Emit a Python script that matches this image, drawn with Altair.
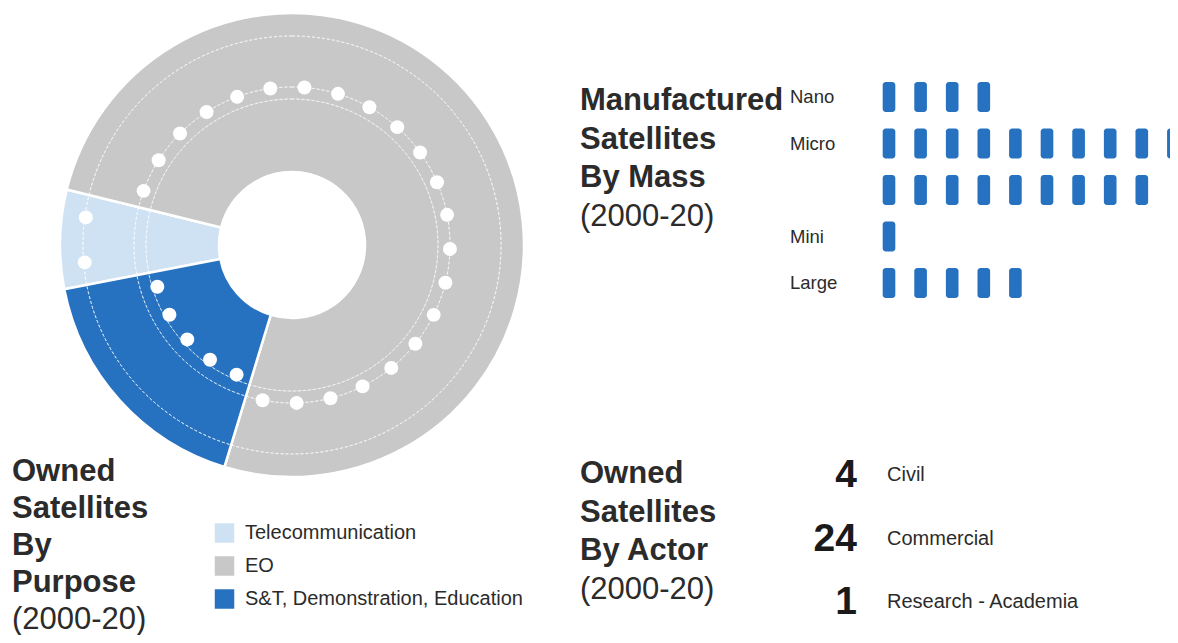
import math
import altair as alt
import pandas as pd

# ---------------- data ----------------
purposes = ["Telecommunication", "EO", "S&T, Demonstration, Education"]
purpose_counts = [2, 22, 5]

mass_classes = ["Nano", "Micro", "Mini", "Large"]
mass_counts = [4, 19, 1, 5]

actors = ["Civil", "Commercial", "Research - Academia"]
actor_counts = [4, 24, 1]

title_purpose = ["Owned", "Satellites", "By", "Purpose", "(2000-20)"]
title_mass = ["Manufactured", "Satellites", "By Mass", "(2000-20)"]
title_actor = ["Owned", "Satellites", "By Actor", "(2000-20)"]

# ---------------- styles / layout ----------------
W, H = 1162, 627
FONT = "Liberation Sans"
TXT = "#2b2b2b"
purpose_colors = ["#cfe2f3", "#c8c8c8", "#2672c0"]
BAR_BLUE = "#2672c0"
CX, CY = 284, 237
R_OUT, R_IN = 232, 73
START = math.radians(259)
dot_ring = {"Telecommunication": 208, "EO": 158, "S&T, Demonstration, Education": 141}
faint_rings = [209, 158, 146]
PER_ROW = 10
TITLE_SIZE = 31

total = sum(purpose_counts)

pie_df = pd.DataFrame({"purpose": purposes, "count": purpose_counts,
                       "order": list(range(len(purposes)))})

dot_rows = []
cum = 0
for p, c in zip(purposes, purpose_counts):
    for k in range(c):
        dot_rows.append({"purpose": p, "pos": cum + k + 0.5, "ring": dot_ring[p]})
    cum += c
dots_df = pd.DataFrame(dot_rows)

rings_df = pd.DataFrame({"r": faint_rings})

bar_rows, lab_rows = [], []
row = 0
for m, c in zip(mass_classes, mass_counts):
    lab_rows.append({"label": m, "row": row})
    for k in range(c):
        r_ = row + k // PER_ROW
        col = k % PER_ROW
        bar_rows.append({"cls": m, "row": r_, "col": col})
    row += math.ceil(c / PER_ROW)
bars_df = pd.DataFrame(bar_rows)
mass_lab_df = pd.DataFrame(lab_rows)

leg_df = pd.DataFrame({"purpose": purposes, "i": list(range(len(purposes)))})
actor_df = pd.DataFrame({"actor": actors, "n": [str(v) for v in actor_counts],
                         "i": list(range(len(actors)))})


def lin(domain, rng):
    return alt.Scale(domain=domain, range=rng, nice=False, zero=False)


# ---------------- donut ----------------
color_scale = alt.Scale(domain=purposes, range=purpose_colors)

donut = alt.Chart(pie_df).mark_arc(
    innerRadius=R_IN, outerRadius=R_OUT, stroke="white", strokeWidth=2.5
).encode(
    theta=alt.Theta("count:Q", stack=True,
                    scale=alt.Scale(domain=[0, total], range=[START, START + 2 * math.pi])),
    color=alt.Color("purpose:N", scale=color_scale, legend=None),
    order=alt.Order("order:Q"),
    x=alt.value(CX), y=alt.value(CY),
)

rings = alt.Chart(rings_df).mark_arc(
    fillOpacity=0, stroke="white", strokeWidth=1, strokeDash=[3, 2], strokeOpacity=0.6
).encode(
    theta=alt.value(0), theta2=alt.value(2 * math.pi),
    radius=alt.Radius("r:Q", scale=None), radius2=alt.Radius2("r:Q"),
    x=alt.value(CX), y=alt.value(CY),
)

dots = alt.Chart(dots_df).transform_calculate(
    ang=f"{START} + 2*PI*datum.pos/{total}"
).transform_calculate(
    dx="datum.ring*sin(datum.ang)", dy="datum.ring*cos(datum.ang)"
).mark_circle(size=195, color="white", opacity=1).encode(
    x=alt.X("dx:Q", scale=lin([-CX, W - CX], [0, W]), axis=None),
    y=alt.Y("dy:Q", scale=lin([CY - H, CY], [H, 0]), axis=None),
)

# ---------------- legend ----------------
leg_y = lin([0, 1], [525, 558])
legend_sq = alt.Chart(leg_df).mark_square(size=380, opacity=1).encode(
    x=alt.value(216.5),
    y=alt.Y("i:Q", scale=leg_y, axis=None),
    color=alt.Color("purpose:N", scale=color_scale, legend=None),
)
legend_txt = alt.Chart(leg_df).mark_text(
    align="left", baseline="middle", font=FONT, fontSize=20, color=TXT
).encode(
    x=alt.value(237),
    y=alt.Y("i:Q", scale=leg_y, axis=None),
    text="purpose:N",
)

# ---------------- titles ----------------
def title_block(lines, x0, y0, step):
    df = pd.DataFrame({"line": lines, "i": list(range(len(lines))),
                       "bold": [1] * (len(lines) - 1) + [0]})
    ys = lin([0, 1], [y0, y0 + step])
    bold = alt.Chart(df).transform_filter("datum.bold == 1").mark_text(
        align="left", baseline="alphabetic", font=FONT, fontSize=TITLE_SIZE,
        fontWeight="bold", color=TXT
    ).encode(x=alt.value(x0), y=alt.Y("i:Q", scale=ys, axis=None), text="line:N")
    reg = alt.Chart(df).transform_filter("datum.bold == 0").mark_text(
        align="left", baseline="alphabetic", font=FONT, fontSize=TITLE_SIZE, color=TXT
    ).encode(x=alt.value(x0), y=alt.Y("i:Q", scale=ys, axis=None), text="line:N")
    return [bold, reg]


# ---------------- waffle (by mass) ----------------
bx = lin([0, 9], [881, 1165.4])
by = lin([0, 4], [89, 275])
waffle = alt.Chart(bars_df).transform_calculate(
    x1="datum.col - 0.2", x2="datum.col + 0.2",
    y1="datum.row - 0.32", y2="datum.row + 0.32",
).mark_rect(cornerRadius=3, color=BAR_BLUE).encode(
    x=alt.X("x1:Q", scale=bx, axis=None), x2="x2:Q",
    y=alt.Y("y1:Q", scale=by, axis=None), y2="y2:Q",
)
mass_labels = alt.Chart(mass_lab_df).mark_text(
    align="left", baseline="middle", font=FONT, fontSize=18.5, color=TXT
).encode(
    x=alt.value(782),
    y=alt.Y("row:Q", scale=by, axis=None),
    text="label:N",
)

# ---------------- by actor ----------------
ay = lin([0, 1], [467, 530.5])
actor_nums = alt.Chart(actor_df).mark_text(
    align="right", baseline="middle", font=FONT, fontSize=39, fontWeight="bold",
    color="#1a1a1a"
).encode(x=alt.value(849), y=alt.Y("i:Q", scale=ay, axis=None), text="n:N")
actor_labs = alt.Chart(actor_df).mark_text(
    align="left", baseline="middle", font=FONT, fontSize=20, color=TXT
).encode(x=alt.value(879), y=alt.Y("i:Q", scale=ay, axis=None), text="actor:N")

layers = [donut, rings, dots, legend_sq, legend_txt]
layers += title_block(title_purpose, 4, 473, 37)
layers += title_block(title_mass, 572, 102, 38.5)
layers += title_block(title_actor, 572, 475, 38.5)
layers += [waffle, mass_labels, actor_nums, actor_labs]

chart = alt.layer(*layers).resolve_scale(
    x="independent", y="independent", color="independent",
    theta="independent", radius="independent",
).properties(
    width=W, height=H, autosize=alt.AutoSizeParams(type="none"), padding=0,
).configure_view(stroke=None)

chart.save("out.html", embed_options={"renderer": "svg", "actions": False})
